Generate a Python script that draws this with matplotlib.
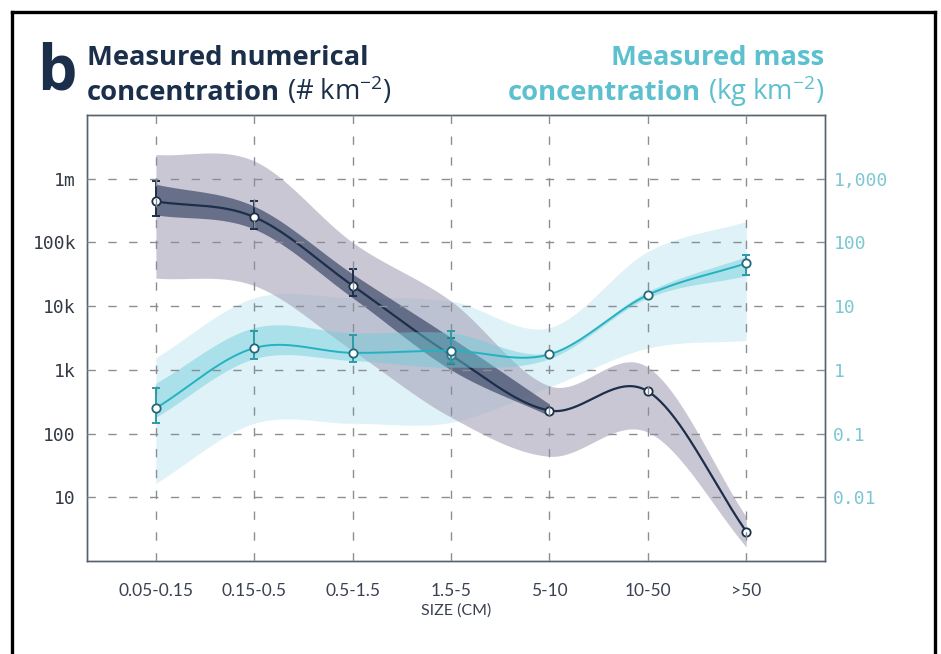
import numpy as np
import matplotlib
matplotlib.use("Agg")
import matplotlib.pyplot as plt
from matplotlib.ticker import FixedLocator, FixedFormatter, NullLocator
from matplotlib.lines import Line2D

plt.rcParams["mathtext.fontset"] = "custom"
plt.rcParams["mathtext.rm"] = "Open Sans"
plt.rcParams["lines.scale_dashes"] = False

nan = np.nan

sizes = ["0.05-0.15", "0.15-0.5", "0.5-1.5", "1.5-5", "5-10", "10-50", ">50"]

# numerical concentration (# km-2)
count_mid = [440000, 250000, 21000, 1700, 230, 460, 2.9]
count_err_lo = [257000, 162000, 14500, 1250, nan, nan, nan]
count_err_hi = [910000, 440000, 38000, 3200, nan, nan, nan]
count_in_lo = [270000, 162000, 13500, 1000, 190, nan, nan]
count_in_hi = [820000, 370000, 32000, 3200, 290, nan, nan]
count_out_lo = [27500, 21000, 2000, 180, 44, 105, 1.66]
count_out_hi = [2400000, 1900000, 100000, 12000, 560, 1100, 4.9]

# mass concentration (kg km-2)
mass_mid = [0.25, 2.2, 1.85, 2.0, 1.75, 15, 47]
mass_err_lo = [0.145, 1.48, 1.32, 1.26, nan, nan, 31]
mass_err_hi = [0.51, 4.1, 3.5, 4.1, nan, nan, 63]
mass_in_lo = [0.18, 1.5, 1.4, 1.1, 1.5, 13.5, 30]
mass_in_hi = [0.62, 4.6, 3.8, 3.8, 1.86, 17, 60]
mass_out_lo = [0.0166, 0.145, 0.145, 0.15, 0.54, 2.2, 2.9]
mass_out_hi = [1.55, 13.5, 13.5, 12, 4.6, 72, 214]

left_ticks = [10, 100, 1e3, 1e4, 1e5, 1e6]
left_labels = ["10", "100", "1k", "10k", "100k", "1m"]
right_ticks = [0.01, 0.1, 1, 10, 100, 1000]
right_labels = ["0.01", "0.1", "1", "10", "100", "1,000"]

navy = "#1b2f4b"
teal = "#25b2c0"
teal_txt = "#5cc0cf"
teal_tick = "#7cc7d2"
title_font = "Open Sans"
title_size = 19.7


def smooth(y, n=40):
    # cubic hermite through the points in log space
    y = np.asarray(y, float)
    ok = np.isfinite(y)
    x = np.arange(len(y))[ok]
    ly = np.log10(y[ok])
    m = np.gradient(ly, x)
    xs, ys = [], []
    t = np.linspace(0, 1, n, endpoint=False)
    h00 = 2 * t**3 - 3 * t**2 + 1
    h10 = t**3 - 2 * t**2 + t
    h01 = -2 * t**3 + 3 * t**2
    h11 = t**3 - t**2
    for i in range(len(x) - 1):
        h = x[i + 1] - x[i]
        ys.append(h00 * ly[i] + h10 * h * m[i] + h01 * ly[i + 1] + h11 * h * m[i + 1])
        xs.append(x[i] + t * h)
    xs.append([x[-1]])
    ys.append([ly[-1]])
    return np.concatenate(xs), 10 ** np.concatenate(ys)


def errbars(ax, mid, lo, hi, color):
    mid = np.asarray(mid, float)
    lo = np.asarray(lo, float)
    hi = np.asarray(hi, float)
    ok = np.isfinite(lo)
    x = np.arange(len(mid))[ok]
    ax.errorbar(x, mid[ok], yerr=[mid[ok] - lo[ok], hi[ok] - mid[ok]],
                fmt="none", ecolor=color, elinewidth=1.4, capsize=3,
                capthick=1.4, zorder=4)


fig = plt.figure(figsize=(9.41, 6.54), dpi=100)
ax = fig.add_axes([87 / 941, 1 - 561 / 654, (825 - 87) / 941, (561 - 115) / 654])
ax2 = ax.twinx()

ax.set_yscale("log")
ax2.set_yscale("log")
ax.set_ylim(1, 1e7)
ax2.set_ylim(1e-3, 1e4)
ax.set_xlim(-0.7, 6.8)

x = np.arange(len(sizes))

# wide mass band goes underneath everything (right-axis units)
xs, lo = smooth(mass_out_lo)
_, hi = smooth(mass_out_hi)
ax.fill_between(xs, lo, hi, color="#d6eff5", alpha=0.8, lw=0, zorder=0.5,
                transform=ax2.transData)

# numerical series (left)
xs, lo = smooth(count_out_lo)
_, hi = smooth(count_out_hi)
ax.fill_between(xs, lo, hi, color="#a8a2ba", alpha=0.6, lw=0, zorder=1)
xs, lo = smooth(count_in_lo)
_, hi = smooth(count_in_hi)
ax.fill_between(xs, lo, hi, color="#3f4a68", alpha=0.7, lw=0, zorder=1)
xs, mid = smooth(count_mid)
ax.plot(xs, mid, color=navy, lw=1.6, zorder=3)
errbars(ax, count_mid, count_err_lo, count_err_hi, navy)
ax.plot(x, count_mid, "o", ms=6, mfc="white", mec=navy, mew=1.3, zorder=5)

# mass series (right)
xs, lo = smooth(mass_in_lo)
_, hi = smooth(mass_in_hi)
ax2.fill_between(xs, lo, hi, color="#6ccbd9", alpha=0.45, lw=0, zorder=1)
xs, mid = smooth(mass_mid)
ax2.plot(xs, mid, color=teal, lw=1.4, zorder=3)
errbars(ax2, mass_mid, mass_err_lo, mass_err_hi, "#2f9aa6")
ax2.plot(x, mass_mid, "o", ms=6, mfc="white", mec="#23697a", mew=1.3, zorder=5)

ax2.set_ylim(1e-3, 1e4)
ax.set_ylim(1, 1e7)
ax.set_xlim(-0.7, 6.8)

ax.set_xticks(x)
ax.set_xticklabels(sizes, fontsize=12.5, family="Lato", color="#3a4150")
ax.tick_params(axis="x", length=0, pad=16)
ax.set_xlabel("SIZE (CM)", fontsize=11.5, family="Lato", color="#3a4150", labelpad=3)

ax.yaxis.set_major_locator(FixedLocator(left_ticks))
ax.yaxis.set_major_formatter(FixedFormatter(left_labels))
ax.yaxis.set_minor_locator(NullLocator())
ax.tick_params(axis="y", length=0, pad=8, labelsize=13, labelcolor="#333a44")
for lab in ax.get_yticklabels():
    lab.set_family("DejaVu Sans Mono")

ax2.yaxis.set_major_locator(FixedLocator(right_ticks))
ax2.yaxis.set_major_formatter(FixedFormatter(right_labels))
ax2.yaxis.set_minor_locator(NullLocator())
ax2.tick_params(axis="y", length=0, pad=6, labelsize=13, labelcolor=teal_tick)
for lab in ax2.get_yticklabels():
    lab.set_family("DejaVu Sans Mono")

# grid on the top axes so it sits over the bands
ax2.xaxis.set_visible(True)
ax2.tick_params(axis="x", bottom=False, top=False, labelbottom=False, labeltop=False)
ax2.set_axisbelow(False)
ax2.grid(True, axis="both", color="#8a8f96", lw=1.0, dashes=(6, 9))

for a in (ax, ax2):
    for s in a.spines.values():
        s.set_color("#58626f")
        s.set_linewidth(1.0)

# titles
W, H = 941, 654
fig.text(37 / W, 1 - 90 / H, "b", fontsize=45, fontweight="bold", family=title_font,
         color=navy, va="baseline", ha="left")
fig.text(87 / W, 1 - 65 / H, "Measured numerical", fontsize=title_size, fontweight="bold",
         family=title_font, color=navy, va="baseline")
t1 = fig.text(87 / W, 1 - 100 / H, "concentration", fontsize=title_size, fontweight="bold",
              family=title_font, color=navy, va="baseline")
fig.text(824 / W, 1 - 65 / H, "Measured mass", fontsize=title_size, fontweight="bold",
         family=title_font, color=teal_txt, va="baseline", ha="right")
t2 = fig.text(824 / W, 1 - 100 / H, " (kg km$^{-2}$)", fontsize=title_size,
              family=title_font, color=teal_txt, va="baseline", ha="right")
fig.canvas.draw()
r = fig.canvas.get_renderer()
b1 = t1.get_window_extent(r)
fig.text(b1.x1 / W, 1 - 100 / H, " (# km$^{-2}$)", fontsize=title_size, family=title_font,
         color=navy, va="baseline")
b2 = t2.get_window_extent(r)
fig.text(b2.x0 / W, 1 - 100 / H, "concentration", fontsize=title_size, fontweight="bold",
         family=title_font, color=teal_txt, va="baseline", ha="right")

# black frame
fx0, fx1, fy1 = 11.5 / W, 934.5 / W, 1 - 11.5 / H
for xx, yy in [([fx0, fx0], [0, fy1]), ([fx1, fx1], [0, fy1]), ([fx0, fx1], [fy1, fy1])]:
    fig.add_artist(Line2D(xx, yy, transform=fig.transFigure, color="black", lw=2.4))

fig.savefig("out.png", dpi=100)
